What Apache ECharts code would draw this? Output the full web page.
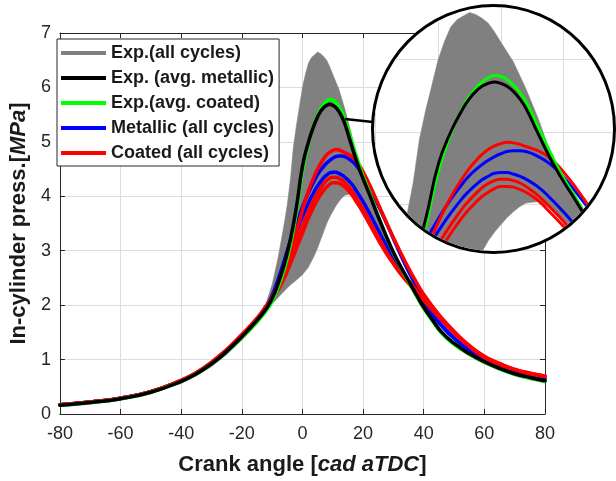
<!DOCTYPE html>
<html>
<head>
<meta charset="utf-8">
<script src="https://cdn.jsdelivr.net/npm/echarts@6/dist/echarts.min.js"></script>
<style>
html,body{margin:0;padding:0;background:#fff;}
#wrap{position:relative;width:616px;height:481px;overflow:hidden;}
#main{position:absolute;left:0;top:0;width:616px;height:481px;}
#lens{position:absolute;left:371px;top:4px;width:245px;height:250px;box-sizing:border-box;border:3px solid #000;border-radius:50%;overflow:hidden;background:#fff;}
#inset{position:absolute;left:-61px;top:-20px;width:313px;height:290px;}
</style>
</head>
<body>
<div id="wrap">
  <div id="main"></div>
  <div id="lens"><div id="inset"></div></div>
</div>
<script>
// ---- data (crank angle in cad aTDC, pressure in MPa) ----
const angle = [-80,-70,-60,-50,-40,-35,-30,-25,-20,-15,-12,-10,-8,-6,-4,-2,0,2,4,5,6,7,8,9,10,11,12,13,14,16,18,20,22,25,28,30,32,35,38,40,43,46,50,55,60,65,70,75,80];

const upperAngle = [-80,-70,-60,-50,-40,-35,-30,-25,-20,-15,-12,-10,-8,-6,-5,-4,-3,-2,-1,0,1,2,3,4,5,6,7,8,9,10,12,14,16,18,20,22,25,28,30,32,35,38,40,43,46,50,55,60,65,70,75,80];
const expUpper = [0.19,0.24,0.31,0.43,0.63,0.77,0.96,1.19,1.47,1.80,2.03,2.38,2.88,3.50,3.85,4.30,4.90,5.30,5.65,6.00,6.25,6.45,6.55,6.60,6.65,6.62,6.57,6.50,6.38,6.24,5.97,5.60,5.18,4.70,4.36,4.07,3.64,3.23,2.98,2.76,2.46,2.17,1.98,1.74,1.52,1.32,1.13,0.98,0.86,0.76,0.69,0.63];
const expLower = [0.13,0.18,0.25,0.37,0.56,0.70,0.87,1.09,1.36,1.65,1.86,2.02,2.14,2.26,2.37,2.46,2.56,2.70,2.92,3.05,3.20,3.35,3.50,3.62,3.72,3.82,3.90,3.97,4.02,4.04,3.95,3.80,3.60,3.28,2.98,2.84,2.66,2.38,2.09,1.91,1.67,1.45,1.25,1.07,0.92,0.80,0.70,0.63,0.57];

const avgMetallic = [0.16,0.21,0.28,0.40,0.60,0.74,0.92,1.15,1.42,1.72,1.93,2.12,2.40,2.75,3.20,3.80,4.55,5.00,5.33,5.46,5.56,5.63,5.67,5.69,5.67,5.63,5.56,5.46,5.33,4.97,4.62,4.32,4.05,3.62,3.22,2.97,2.75,2.45,2.15,1.96,1.72,1.50,1.30,1.11,0.96,0.84,0.74,0.67,0.61];
const avgCoated   = [0.16,0.21,0.28,0.40,0.60,0.74,0.92,1.14,1.40,1.69,1.90,2.07,2.33,2.66,3.10,3.70,4.45,4.97,5.35,5.49,5.60,5.69,5.75,5.78,5.77,5.72,5.65,5.55,5.42,5.06,4.70,4.37,4.09,3.64,3.22,2.96,2.74,2.43,2.13,1.94,1.70,1.48,1.28,1.10,0.95,0.83,0.73,0.66,0.60];

const metallic1 = [0.17,0.22,0.29,0.41,0.61,0.75,0.93,1.16,1.43,1.74,1.98,2.18,2.48,2.82,3.18,3.50,3.80,4.07,4.30,4.40,4.48,4.55,4.61,4.66,4.70,4.73,4.74,4.74,4.73,4.66,4.55,4.38,4.17,3.83,3.47,3.22,2.97,2.62,2.30,2.10,1.85,1.63,1.40,1.18,1.01,0.88,0.78,0.70,0.65];
const metallic2 = [0.17,0.22,0.29,0.41,0.61,0.75,0.93,1.16,1.43,1.74,1.97,2.16,2.44,2.75,3.05,3.35,3.63,3.88,4.10,4.19,4.27,4.34,4.39,4.43,4.44,4.44,4.42,4.39,4.35,4.24,4.08,3.90,3.70,3.38,3.06,2.86,2.67,2.42,2.18,2.03,1.81,1.61,1.39,1.17,1.00,0.87,0.77,0.69,0.64];

const coated1 = [0.17,0.22,0.29,0.41,0.62,0.76,0.95,1.18,1.46,1.76,1.98,2.15,2.38,2.65,2.98,3.35,3.75,4.10,4.38,4.50,4.60,4.69,4.76,4.81,4.84,4.86,4.85,4.83,4.80,4.74,4.63,4.45,4.23,3.86,3.48,3.24,3.01,2.68,2.38,2.20,1.97,1.76,1.52,1.26,1.06,0.93,0.82,0.75,0.70];
const coated2 = [0.17,0.22,0.29,0.41,0.62,0.76,0.95,1.18,1.45,1.74,1.95,2.12,2.33,2.58,2.86,3.15,3.45,3.72,3.96,4.06,4.15,4.23,4.29,4.33,4.35,4.35,4.33,4.30,4.25,4.12,3.95,3.77,3.56,3.25,2.95,2.78,2.62,2.45,2.24,2.11,1.92,1.73,1.50,1.25,1.05,0.92,0.82,0.75,0.70];
const coated3 = [0.17,0.22,0.29,0.41,0.62,0.76,0.95,1.18,1.45,1.73,1.93,2.09,2.28,2.50,2.76,3.04,3.32,3.60,3.84,3.94,4.03,4.11,4.17,4.22,4.25,4.25,4.24,4.21,4.17,4.05,3.88,3.70,3.50,3.20,2.92,2.76,2.60,2.40,2.21,2.09,1.90,1.72,1.49,1.24,1.04,0.91,0.81,0.74,0.69];

const legendNames = ['Exp.(all cycles)','Exp. (avg. metallic)','Exp.(avg. coated)','Metallic (all cycles)','Coated (all cycles)'];

// ---- helpers ----
const FONT = '"Liberation Sans", Arial, Helvetica, sans-serif';
function pairs(xs, ys){ return xs.map((x,i)=>[x, ys[i]]); }

function makeSeries(lw){
  const band = {
    type:'custom', name:legendNames[0], silent:true,
    itemStyle:{color:'#808080'},
    data:[[0,1]],
    renderItem:function(params, api){
      const pts = [];
      for(let i=0;i<upperAngle.length;i++) pts.push(api.coord([upperAngle[i], expUpper[i]]));
      for(let i=angle.length-1;i>=0;i--) pts.push(api.coord([angle[i], expLower[i]]));
      return {type:'polygon', shape:{points:pts}, style:{fill:'#808080', stroke:'#808080', lineWidth:0.5}};
    },
    z:1
  };
  const line = (name, color, ys, w) => ({
    type:'line', name:name, data:pairs(angle, ys),
    showSymbol:false, symbol:'none', smooth:0.5,
    lineStyle:{color:color, width:w, cap:'round', join:'round'}, itemStyle:{color:color},
    silent:true, z:2
  });
  return [
    band,
    line(legendNames[3], '#0000ff', metallic1, lw),
    line(legendNames[3], '#0000ff', metallic2, lw),
    line(legendNames[4], '#ff0000', coated1, lw),
    line(legendNames[4], '#ff0000', coated2, lw),
    line(legendNames[4], '#ff0000', coated3, lw),
    line(legendNames[2], '#00ff00', avgCoated, lw),
    line(legendNames[1], '#000000', avgMetallic, lw)
  ];
}

// ---- main chart ----
const main = echarts.init(document.getElementById('main'), null, {renderer:'canvas'});
const axisCol = '#262626';
const gridCol = '#dcdcdc';
main.setOption({
  animation:false,
  backgroundColor:'#ffffff',
  grid:{left:52, right:71, top:33, bottom:67, containLabel:false},
  legend:{
    data:legendNames, orient:'vertical', left:57, top:39,
    icon:'rect', itemWidth:45, itemHeight:4, itemGap:5,
    padding:[4,5,3,4],
    backgroundColor:'#ffffff', borderColor:axisCol, borderWidth:1,
    textStyle:{fontFamily:FONT, fontSize:18, fontWeight:'bold', color:'#1a1a1a', lineHeight:20},
    selectedMode:false
  },
  xAxis:[{
    type:'value', min:-80, max:80, interval:20, position:'bottom',
    axisLine:{show:true, onZero:false, lineStyle:{color:axisCol, width:1}},
    axisTick:{show:true, inside:true, length:5, lineStyle:{color:axisCol}},
    axisLabel:{fontFamily:FONT, fontSize:18, color:axisCol, margin:11},
    splitLine:{show:true, lineStyle:{color:gridCol, width:1}},
    name:'{b|Crank angle [}{i|cad aTDC}{b|]}', nameLocation:'middle', nameGap:40,
    nameTextStyle:{rich:{
      b:{fontFamily:FONT, fontSize:22, fontWeight:'bold', color:'#1a1a1a'},
      i:{fontFamily:FONT, fontSize:22, fontWeight:'bold', fontStyle:'italic', color:'#1a1a1a'}
    }}
  },{
    type:'value', min:-80, max:80, interval:20, position:'top',
    axisLine:{show:true, onZero:false, lineStyle:{color:axisCol, width:1}},
    axisTick:{show:true, inside:true, length:5, lineStyle:{color:axisCol}},
    axisLabel:{show:false}, splitLine:{show:false}
  }],
  yAxis:[{
    type:'value', min:0, max:7, interval:1, position:'left',
    axisLine:{show:true, onZero:false, lineStyle:{color:axisCol, width:1}},
    axisTick:{show:true, inside:true, length:5, lineStyle:{color:axisCol}},
    axisLabel:{fontFamily:FONT, fontSize:18, color:axisCol, margin:9},
    splitLine:{show:true, lineStyle:{color:gridCol, width:1}},
    name:'{b|In-cylinder press.[}{i|MPa}{b|]}', nameLocation:'middle', nameGap:24, nameRotate:90,
    nameTextStyle:{rich:{
      b:{fontFamily:FONT, fontSize:22, fontWeight:'bold', color:'#1a1a1a'},
      i:{fontFamily:FONT, fontSize:22, fontWeight:'bold', fontStyle:'italic', color:'#1a1a1a'}
    }}
  },{
    type:'value', min:0, max:7, interval:1, position:'right',
    axisLine:{show:true, onZero:false, lineStyle:{color:axisCol, width:1}},
    axisTick:{show:true, inside:true, length:5, lineStyle:{color:axisCol}},
    axisLabel:{show:false}, splitLine:{show:false}
  }],
  graphic:[{
    type:'line', z:100, silent:true,
    shape:{x1:345, y1:119, x2:373, y2:122},
    style:{stroke:'#000000', lineWidth:2.5}
  }],
  series:makeSeries(3.5)
});

// ---- inset (magnified view inside the circle) ----
const inset = echarts.init(document.getElementById('inset'), null, {renderer:'canvas'});
inset.setOption({
  animation:false,
  grid:{left:0, right:0, top:0, bottom:0, containLabel:false},
  xAxis:{type:'value', min:-20, max:30, interval:10,
    axisLine:{show:false}, axisTick:{show:false}, axisLabel:{show:false},
    splitLine:{show:true, lineStyle:{color:gridCol, width:1}}},
  yAxis:{type:'value', min:3, max:7, interval:1,
    axisLine:{show:false}, axisTick:{show:false}, axisLabel:{show:false},
    splitLine:{show:true, lineStyle:{color:gridCol, width:1}}},
  series:makeSeries(3)
});
</script>
</body>
</html>
